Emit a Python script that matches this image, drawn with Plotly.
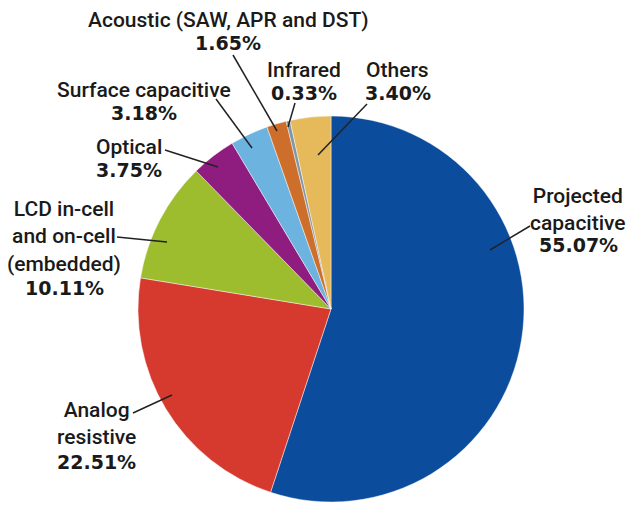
import plotly.graph_objects as go

# Touchscreen technology shares
labels = ['Projected capacitive', 'Analog resistive', 'LCD in-cell and on-cell (embedded)',
          'Optical', 'Surface capacitive', 'Acoustic (SAW, APR and DST)', 'Infrared', 'Others']
shares = [55.07, 22.51, 10.11, 3.75, 3.18, 1.65, 0.33, 3.40]
colors = ['#0b4c9c', '#d63a2e', '#9dbd2f', '#8f1c7f', '#6db3e0', '#cd6f2a', '#8296a6', '#e6b95b']

# label text (name lines) as shown on the chart
names = ['Projected<br>capacitive', 'Analog<br>resistive', 'LCD in-cell<br>and on-cell<br>(embedded)',
         'Optical', 'Surface capacitive', 'Acoustic (SAW, APR and DST)', 'Infrared', 'Others']

W, H = 627, 506

def px(x):
    return x / W

def py(y):
    return 1 - y / H

# label placement in pixels: (center x, name center y, pct center y)
label_pos = [(578, 209, 245), (96, 423, 462), (64, 237, 288), (129, 147, 170),
             (144, 90, 113), (228, 20, 43), (304, 70, 93), (398, 70, 93)]
# leader lines in pixels: (x0, y0, x1, y1)
leaders = [(530, 226, 490, 250), (133, 413, 172, 395), (117, 237, 167, 242), (165, 150, 218, 167),
           (216, 99, 252, 148), (233, 55, 277, 131), (295, 103, 288, 127), (367, 104, 318, 155)]

fig = go.Figure(go.Pie(
    labels=labels,
    values=shares,
    sort=False,
    direction='clockwise',
    rotation=0,
    marker=dict(colors=colors, line=dict(color='rgba(255,255,255,0.45)', width=1)),
    textinfo='none',
    hoverinfo='label+percent',
    domain=dict(x=[px(138), px(524)], y=[py(502), py(116)]),
    showlegend=False,
))

name_font = dict(family='Roboto, Liberation Sans, Arial, sans-serif', size=21, color='#1a1a1a', weight=500)
pct_font = dict(family='DejaVu Sans, sans-serif', size=19, color='#1a1a1a')

for name, share, (cx, ny, pcy) in zip(names, shares, label_pos):
    fig.add_annotation(x=px(cx), y=py(ny), xref='paper', yref='paper', text=name,
                       showarrow=False, font=name_font, align='center',
                       xanchor='center', yanchor='middle')
    fig.add_annotation(x=px(cx), y=py(pcy), xref='paper', yref='paper',
                       text='<b>%.2f%%</b>' % share, showarrow=False, font=pct_font,
                       xanchor='center', yanchor='middle')

for x0, y0, x1, y1 in leaders:
    fig.add_shape(type='line', xref='paper', yref='paper',
                  x0=px(x0), y0=py(y0), x1=px(x1), y1=py(y1),
                  line=dict(color='#222222', width=1.5))

fig.update_layout(
    width=W, height=H,
    margin=dict(l=0, r=0, t=0, b=0),
    paper_bgcolor='white',
    plot_bgcolor='white',
)

fig.write_html("out.html", config={'displayModeBar': False},
               post_script="document.body.style.margin='0';")
